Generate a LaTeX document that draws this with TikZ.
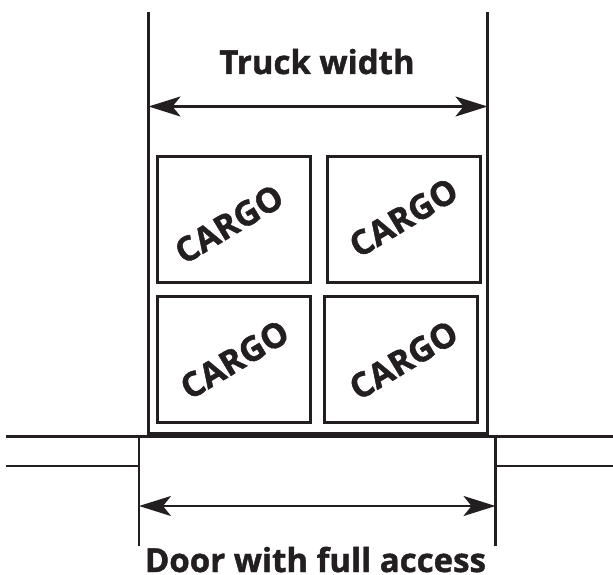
\documentclass[tikz,border=0pt]{standalone}
\usepackage{fontspec}
\setmainfont{Open Sans}[BoldFeatures={FakeBold=1.3}]
\usepackage{xcolor}
\usetikzlibrary{arrows.meta,positioning,calc}
\definecolor{ink}{HTML}{231F20}

\begin{document}
\begin{tikzpicture}[
  x=1pt, y=-1pt,
  every node/.style={font=\bfseries, text=ink},
  wall/.style={draw=ink, line width=2.5pt},
  crate/.style={rectangle, draw=ink, line width=3pt, minimum width=153pt,
    minimum height=126pt, inner sep=0pt},
  cargotext/.style={font=\fontsize{34}{34}\selectfont\bfseries, rotate=31, inner sep=0pt},
  caption/.style={font=\fontsize{33}{33}\selectfont\bfseries, anchor=base, inner sep=0pt},
  dimarrow/.style={{Stealth[length=32pt, width=20pt, inset=8pt]}-{Stealth[length=32pt, width=20pt, inset=8pt]},
    draw=ink, line width=2.3pt},
]
\useasboundingbox (0,0) rectangle (613,575);

% Truck walls
\coordinate (tl) at (148.5,12);
\coordinate (tr) at (487.5,12);
\coordinate (bl) at (148.5,433.5);
\coordinate (br) at (487.5,433.5);
\draw[wall] (tl) -- (bl) -- (br) -- (tr);

% Dock wall and door
\coordinate (wallL) at (6,436.5);
\coordinate (wallR) at (613,436.5);
\coordinate (doorL) at (139,436.5);
\coordinate (doorR) at (495.5,436.5);
\coordinate (jambL) at (139,546);
\coordinate (jambR) at (495.5,546);
\coordinate (lowL) at (6,466);
\coordinate (lowR) at (613,466);
\draw[wall] (wallL) -- (wallR);
\draw[wall] (jambL) -- (doorL);
\draw[wall] (jambR) -- (doorR);
\draw[wall] (lowL) -- (lowL -| doorL);
\draw[wall] (lowR) -- (lowR -| doorR);

% Cargo
\node[crate] (cargoTL) at (234,219.5) {};
\node[crate] (cargoTR) at (403.5,219.5) {};
\node[crate] (cargoBL) at (234,359) {};
\node[crate] (cargoBR) at (401,359) {};
\node[cargotext] (txtTL) at (229,224) {CARGO};
\node[cargotext] (txtTR) at (403.5,217.5) {CARGO};
\node[cargotext] (txtBL) at (234.5,359.5) {CARGO};
\node[cargotext] (txtBR) at (403.5,360) {CARGO};

% Labels
\node[caption] (truckw) at (317,74) {Truck width};
\node[caption] (doorw) at (315.5,572) {Door with full access};

% Arrows
\coordinate (tArrL) at (tl |- 0,106.5);
\coordinate (tArrR) at (tr |- 0,106.5);
\coordinate (dArrL) at (doorL |- 0,506);
\coordinate (dArrR) at (doorR |- 0,506);
\draw[dimarrow] (tArrL) -- (tArrR);
\draw[dimarrow] (dArrL) -- (dArrR);
\end{tikzpicture}
\end{document}
